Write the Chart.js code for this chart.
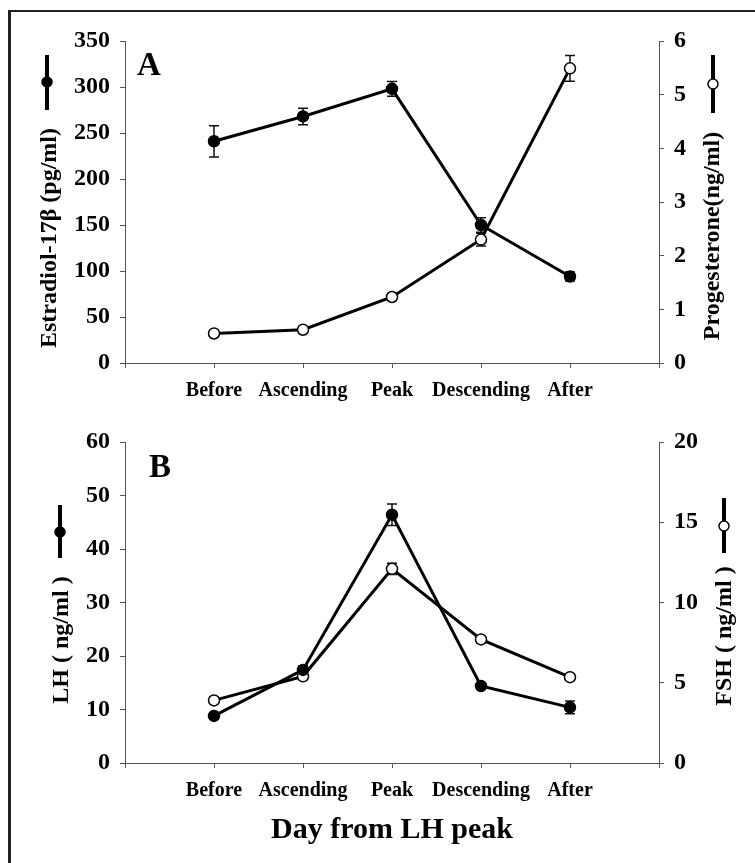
<!DOCTYPE html>
<html>
<head>
<meta charset="utf-8">
<script src="https://cdn.jsdelivr.net/npm/chart.js@4.4.1/dist/chart.umd.min.js"></script>
<style>
  html, body { margin: 0; padding: 0; background: #fff; width: 755px; height: 863px; overflow: hidden; position: relative; }
  #frame { position: absolute; left: 8px; top: 10px; width: 800px; height: 900px; border-top: 2px solid #222; border-left: 3px solid #222; }
  #wrapA { position: absolute; left: 0; top: 0; width: 755px; height: 410px; }
  #wrapB { position: absolute; left: 0; top: 410px; width: 755px; height: 453px; }
</style>
</head>
<body>
<div id="frame"></div>
<div id="wrapA"><canvas id="chartA" width="755" height="410"></canvas></div>
<div id="wrapB"><canvas id="chartB" width="755" height="453"></canvas></div>
<script>
// Hormone profiles around the LH peak (panel A: E2 / P4, panel B: LH / FSH)

const days = ['Before', 'Ascending', 'Peak', 'Descending', 'After'];

const estradiol    = [241, 268, 298, 150, 94];
const estradiolErr = [17, 9, 8, 8, 5];
const progesterone    = [0.55, 0.62, 1.23, 2.30, 5.49];
const progesteroneErr = [0.05, 0.05, 0.05, 0.12, 0.24];

const lh    = [8.8, 17.4, 46.4, 14.4, 10.4];
const lhErr = [0.6, 0.8, 2.0, 0.6, 1.2];
const fsh    = [3.9, 5.4, 12.1, 7.7, 5.35];
const fshErr = [0.2, 0.2, 0.35, 0.2, 0.2];

const INK = '#000';
const AXIS = '#555';
const FONT = 'Liberation Serif';

Chart.defaults.font.family = FONT;
Chart.defaults.font.weight = 'bold';
Chart.defaults.color = INK;

const toPts = (vals) => vals.map((v, i) => ({ x: i + 1, y: v }));

// --- Error bars (drawn under the lines/markers) ---
const errorBars = {
  id: 'errorBars',
  beforeDatasetsDraw(chart) {
    const ctx = chart.ctx;
    chart.data.datasets.forEach((ds, di) => {
      if (!ds.errors) return;
      const meta = chart.getDatasetMeta(di);
      const ys = chart.scales[ds.yAxisID];
      ctx.save();
      ctx.strokeStyle = '#111';
      ctx.lineWidth = 1.5;
      meta.data.forEach((pt, i) => {
        const v = ds.data[i].y, e = ds.errors[i];
        const top = ys.getPixelForValue(v + e);
        const bot = ys.getPixelForValue(v - e);
        ctx.beginPath();
        ctx.moveTo(pt.x, top); ctx.lineTo(pt.x, bot);
        ctx.moveTo(pt.x - 5, top); ctx.lineTo(pt.x + 5, top);
        ctx.moveTo(pt.x - 5, bot); ctx.lineTo(pt.x + 5, bot);
        ctx.stroke();
      });
      ctx.restore();
    });
  }
};

// --- Side titles with symbol glyphs, panel letter, bottom title ---
function drawGlyph(ctx, g) {
  ctx.save();
  ctx.strokeStyle = INK;
  ctx.lineWidth = 4;
  ctx.beginPath();
  ctx.moveTo(g.x, g.y1); ctx.lineTo(g.x, g.y2);
  ctx.stroke();
  ctx.beginPath();
  ctx.arc(g.x, g.cy, 5, 0, Math.PI * 2);
  ctx.fillStyle = g.filled ? INK : '#fff';
  ctx.fill();
  ctx.lineWidth = 1.5;
  ctx.stroke();
  ctx.restore();
}

function drawVText(ctx, t) {
  ctx.save();
  ctx.translate(t.x, t.y);
  ctx.rotate(-Math.PI / 2);
  ctx.font = `bold ${t.size}px "${FONT}"`;
  ctx.fillStyle = INK;
  ctx.textAlign = 'center';
  ctx.textBaseline = 'middle';
  ctx.fillText(t.text, 0, 0);
  ctx.restore();
}

const decorations = {
  id: 'decorations',
  afterDraw(chart, args, opts) {
    const ctx = chart.ctx;
    (opts.side || []).forEach(s => {
      drawGlyph(ctx, s.glyph);
      drawVText(ctx, s);
    });
    if (opts.panel) {
      ctx.save();
      ctx.font = `bold 33px "${FONT}"`;
      ctx.fillStyle = INK;
      ctx.textBaseline = 'alphabetic';
      ctx.fillText(opts.panel.text, opts.panel.x, opts.panel.y);
      ctx.restore();
    }
    if (opts.bottom) {
      ctx.save();
      ctx.font = `bold 30px "${FONT}"`;
      ctx.fillStyle = INK;
      ctx.textAlign = 'center';
      ctx.textBaseline = 'middle';
      ctx.fillText(opts.bottom.text, opts.bottom.x, opts.bottom.y);
      ctx.restore();
    }
  }
};

function lineSet(vals, errs, axis, filled) {
  return {
    data: toPts(vals),
    errors: errs,
    yAxisID: axis,
    borderColor: INK,
    borderWidth: 3,
    pointRadius: 5.5,
    pointBorderWidth: 1.5,
    pointBorderColor: INK,
    pointBackgroundColor: filled ? INK : '#fff',
    tension: 0
  };
}

function yAxis(pos, max, step, width) {
  return {
    type: 'linear',
    position: pos,
    min: 0,
    max: max,
    ticks: { stepSize: step, padding: 10, font: { size: 24, weight: 'bold' }, color: INK },
    grid: { drawOnChartArea: false, drawTicks: true, tickLength: 5, color: AXIS },
    border: { color: AXIS, width: 1 },
    afterFit: (s) => { s.width = width; }
  };
}

function xAxis(height) {
  return {
    type: 'linear',
    min: 0,
    max: 6,
    ticks: {
      stepSize: 1,
      padding: 11,
      autoSkip: false,
      maxRotation: 0,
      font: { size: 20, weight: 'bold' },
      color: INK,
      callback: (v) => days[v - 1] ?? ''
    },
    grid: { drawOnChartArea: false, drawTicks: true, tickLength: 5, color: AXIS },
    border: { color: AXIS, width: 1 },
    afterFit: (s) => { s.height = height; }
  };
}

const common = {
  responsive: false,
  animation: false,
  plugins: { legend: { display: false }, tooltip: { enabled: false } }
};

// --- Panel A ---
new Chart(document.getElementById('chartA'), {
  type: 'line',
  data: {
    datasets: [
      lineSet(estradiol, estradiolErr, 'yL', true),
      lineSet(progesterone, progesteroneErr, 'yR', false)
    ]
  },
  options: {
    ...common,
    layout: { padding: { top: 41, left: 0, right: 0, bottom: 0 } },
    scales: {
      x: xAxis(47),
      yL: yAxis('left', 350, 50, 125),
      yR: yAxis('right', 6, 1, 96)
    },
    plugins: {
      ...common.plugins,
      decorations: {
        side: [
          { text: 'Estradiol-17\u03b2 (pg/ml)', x: 50, y: 238, size: 24,
            glyph: { x: 47, y1: 55, y2: 110, cy: 82, filled: true } },
          { text: 'Progesterone(ng/ml)', x: 713, y: 236, size: 24,
            glyph: { x: 713, y1: 55, y2: 113, cy: 84, filled: false } }
        ],
        panel: { text: 'A', x: 137, y: 75 }
      }
    }
  },
  plugins: [errorBars, decorations]
});

// --- Panel B ---
new Chart(document.getElementById('chartB'), {
  type: 'line',
  data: {
    datasets: [
      lineSet(lh, lhErr, 'yL', true),
      lineSet(fsh, fshErr, 'yR', false)
    ]
  },
  options: {
    ...common,
    layout: { padding: { top: 32, left: 0, right: 0, bottom: 0 } },
    scales: {
      x: xAxis(100),
      yL: yAxis('left', 60, 10, 125),
      yR: yAxis('right', 20, 5, 96)
    },
    plugins: {
      ...common.plugins,
      decorations: {
        side: [
          { text: 'LH ( ng/ml )', x: 62, y: 230, size: 24,
            glyph: { x: 60, y1: 95, y2: 148, cy: 122, filled: true } },
          { text: 'FSH ( ng/ml )', x: 725, y: 226, size: 24,
            glyph: { x: 724, y1: 88, y2: 143, cy: 116, filled: false } }
        ],
        panel: { text: 'B', x: 149, y: 67 },
        bottom: { text: 'Day from LH peak', x: 392, y: 420 }
      }
    }
  },
  plugins: [errorBars, decorations]
});
</script>
</body>
</html>
